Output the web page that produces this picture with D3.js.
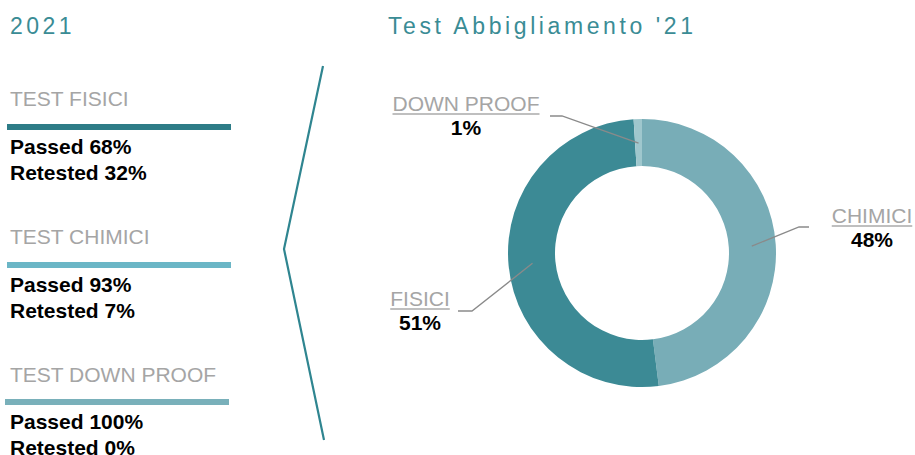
<!DOCTYPE html>
<html>
<head>
<meta charset="utf-8">
<script src="https://cdn.jsdelivr.net/npm/d3@7"></script>
<style>
  html, body { margin: 0; padding: 0; background: #fff; }
  svg { display: block; font-family: "Liberation Sans", Arial, sans-serif; }
</style>
</head>
<body>
<script>
/////////////////////////////////////////////////
// data /////////////////////////////////////////
/////////////////////////////////////////////////

const yearTitle = "2021";
const chartTitle = "Test Abbigliamento '21";

// left panel
const testNames = ["TEST FISICI", "TEST CHIMICI", "TEST DOWN PROOF"];
const passedPct = [68, 93, 100];
const retestedPct = [32, 7, 0];

// donut (clockwise from 12 o'clock)
const sliceNames = ["CHIMICI", "FISICI", "DOWN PROOF"];
const sliceValues = [48, 51, 1];

/////////////////////////////////////////////////
// layout ///////////////////////////////////////
/////////////////////////////////////////////////

const width = 915,
  height = 455;

const barColors = ["#2d7c87", "#6bb6c6", "#79b0ba"];
const sliceColors = ["#78adb7", "#3c8a95", "#9fc7cd"];
const teal = "#3a8c95";
const gray = "#a5a5a5";
const fs = "21px";

const cx = 642,
  cy = 253,
  rOuter = 134,
  rInner = 87;

// label anchors for the donut callouts (center of the label, baseline, elbow, line end)
const calloutLayout = [
  { x: 872, y: 223, elbow: [799, 227], end: 809 },
  { x: 420, y: 306, elbow: [472, 311], end: 458 },
  { x: 466, y: 111, elbow: [562, 116], end: 550 }
];

const svg = d3
  .select("body")
  .append("svg")
  .attr("width", width)
  .attr("height", height);

/////////////////////////////////////////////////
// titles ///////////////////////////////////////
/////////////////////////////////////////////////

svg
  .append("text")
  .attr("x", 10)
  .attr("y", 34)
  .attr("fill", teal)
  .style("font-size", "23px")
  .style("letter-spacing", "3.5px")
  .text(yearTitle);

svg
  .append("text")
  .attr("x", 388)
  .attr("y", 34)
  .attr("fill", teal)
  .style("font-size", "23px")
  .style("letter-spacing", "3.6px")
  .text(chartTitle);

/////////////////////////////////////////////////
// left panel ///////////////////////////////////
/////////////////////////////////////////////////

const y = d3.scaleBand().domain(testNames).range([68, 68 + 3 * 138]);

const block = svg
  .selectAll("g.test")
  .data(testNames)
  .join("g")
  .attr("class", "test")
  .attr("transform", (d) => `translate(0,${y(d)})`);

block
  .append("text")
  .attr("x", 10)
  .attr("y", 38)
  .attr("fill", gray)
  .style("font-size", fs)
  .text((d) => d);

block
  .append("rect")
  .attr("x", (d, i) => (i === 2 ? 5 : 7))
  .attr("y", (d, i) => 56 + (i === 2 ? -1 : 0))
  .attr("width", 224)
  .attr("height", 6)
  .attr("fill", (d, i) => barColors[i]);

block
  .append("text")
  .attr("x", 10)
  .attr("y", (d, i) => 86 + (i === 2 ? -1 : 0))
  .attr("fill", "#000")
  .style("font-size", fs)
  .style("font-weight", "bold")
  .text((d, i) => `Passed ${passedPct[i]}%`);

block
  .append("text")
  .attr("x", 10)
  .attr("y", (d, i) => 112 + (i === 2 ? -1 : 0))
  .attr("fill", "#000")
  .style("font-size", fs)
  .style("font-weight", "bold")
  .text((d, i) => `Retested ${retestedPct[i]}%`);

// chevron divider
svg
  .append("path")
  .attr("d", d3.line()([[323, 66], [284, 249], [324, 440]]))
  .attr("fill", "none")
  .attr("stroke", "#2f8590")
  .attr("stroke-width", 2.2);

/////////////////////////////////////////////////
// donut ////////////////////////////////////////
/////////////////////////////////////////////////

const pie = d3.pie().sort(null).value((d) => d)(sliceValues);
const arc = d3.arc().innerRadius(rInner).outerRadius(rOuter);
const mid = d3.arc().innerRadius(110).outerRadius(110);

const donut = svg.append("g").attr("transform", `translate(${cx},${cy})`);

donut
  .selectAll("path")
  .data(pie)
  .join("path")
  .attr("d", arc)
  .attr("fill", (d, i) => sliceColors[i]);

// leader lines
svg
  .selectAll("path.leader")
  .data(pie)
  .join("path")
  .attr("class", "leader")
  .attr("fill", "none")
  .attr("stroke", "#8a8a8a")
  .attr("stroke-width", 1.3)
  .attr("d", (d, i) => {
    const c = mid.centroid(d);
    const L = calloutLayout[i];
    return d3.line()([[cx + c[0], cy + c[1]], L.elbow, [L.end, L.elbow[1]]]);
  });

// callout labels
const callout = svg
  .selectAll("g.callout")
  .data(sliceNames)
  .join("g")
  .attr("class", "callout");

callout
  .append("text")
  .attr("x", (d, i) => calloutLayout[i].x)
  .attr("y", (d, i) => calloutLayout[i].y)
  .attr("text-anchor", "middle")
  .attr("fill", gray)
  .style("font-size", fs)
  .text((d) => d)
  .each(function (d, i) {
    const w = this.getComputedTextLength();
    const L = calloutLayout[i];
    d3.select(this.parentNode)
      .append("line")
      .attr("x1", L.x - w / 2)
      .attr("x2", L.x + w / 2)
      .attr("y1", L.y + 3)
      .attr("y2", L.y + 3)
      .attr("stroke", "#aaa")
      .attr("stroke-width", 1.5);
  });

callout
  .append("text")
  .attr("x", (d, i) => calloutLayout[i].x)
  .attr("y", (d, i) => calloutLayout[i].y + 24)
  .attr("text-anchor", "middle")
  .attr("fill", "#000")
  .style("font-size", fs)
  .style("font-weight", "bold")
  .text((d, i) => `${sliceValues[i]}%`);
</script>
</body>
</html>
